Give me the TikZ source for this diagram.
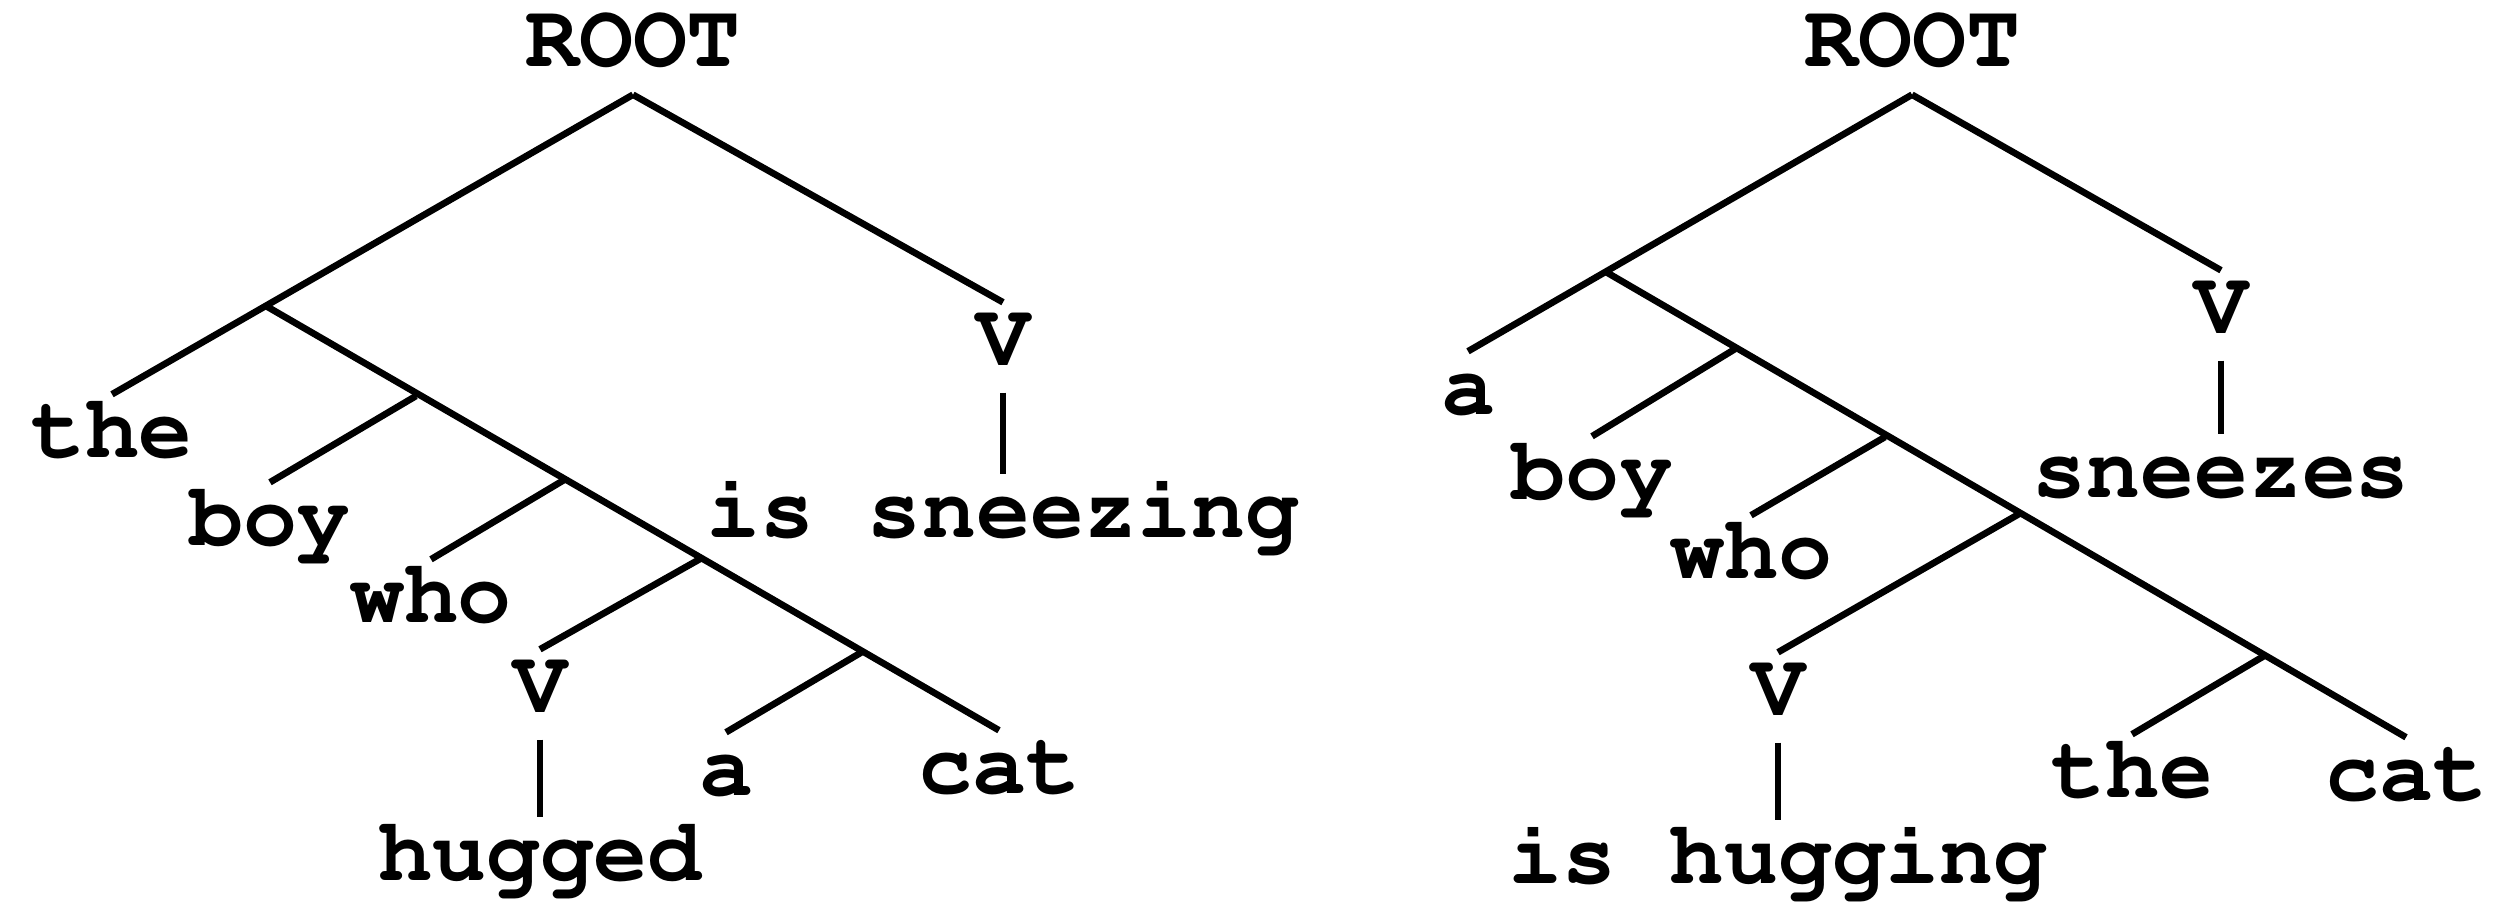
\documentclass[tikz,border=0pt]{standalone}
\usepackage[T1]{fontenc}
\usepackage{courier}
\usepackage{tikz}
\usetikzlibrary{positioning}
\tikzstyle{word} = [inner sep=0pt, text height=0.62cm, text depth=0.27cm, anchor=base, font=\ttfamily\bfseries\fontsize{25.6}{30}\selectfont]
\tikzstyle{branch} = [line width=1.9pt]

\begin{document}
\begin{tikzpicture}[node distance=1.68cm]
		\useasboundingbox (0,0) rectangle (25,-9.15);

		\node (RootL) [word] at (6.33,-0.67) {ROOT};
		\coordinate (SubjL) at (2.66,-3.06);
		\node (TheL) [word] at (1.12,-4.57) {the};
		\node (VerbL) [word] at (10.03,-3.65) {V};
		\node (SneezeL) [word, below of=VerbL, node distance=1.72cm] {is sneezing};
		\coordinate (BoyPtL) at (4.16,-3.96);
		\node (BoyL) [word] at (2.70,-5.45) {boy};
		\coordinate (WhoPtL) at (5.64,-4.80);
		\node (WhoL) [word] at (4.31,-6.22) {who};
		\coordinate (RelPtL) at (7.00,-5.59);
		\node (RelVL) [word] at (5.40,-7.12) {V};
		\node (HugL) [word, below of=RelVL] {hugged};
		\coordinate (ObjPtL) at (8.62,-6.52);
		\node (AL) [word] at (7.26,-7.95) {a};
		\node (CatL) [word] at (9.99,-7.93) {cat};

		\node (RootR) [word] at (19.12,-0.67) {ROOT};
		\coordinate (SubjR) at (16.06,-2.72);
		\node (AR) [word] at (14.68,-4.14) {a};
		\node (VerbR) [word] at (22.21,-3.33) {V};
		\node (SneezeR) [word, below of=VerbR, node distance=1.64cm] {sneezes};
		\coordinate (BoyPtR) at (17.35,-3.49);
		\node (BoyR) [word] at (15.92,-4.99) {boy};
		\coordinate (WhoPtR) at (18.85,-4.37);
		\node (WhoR) [word] at (17.51,-5.78) {who};
		\coordinate (RelPtR) at (20.19,-5.14);
		\node (RelVR) [word] at (17.78,-7.15) {V};
		\node (HugR) [word, below of=RelVR] {is hugging};
		\coordinate (ObjPtR) at (22.64,-6.56);
		\node (TheR) [word] at (21.32,-7.97) {the};
		\node (CatR) [word] at (24.06,-8.00) {cat};

		\draw [branch] (RootL.south) -- (TheL.north);
		\draw [branch] (RootL.south) -- (VerbL.north);
		\draw [branch] (VerbL.south) -- (SneezeL.north);
		\draw [branch] (SubjL) -- (CatL.north);
		\draw [branch] (BoyPtL) -- (BoyL.north);
		\draw [branch] (WhoPtL) -- (WhoL.north);
		\draw [branch] (RelPtL) -- (RelVL.north);
		\draw [branch] (RelVL.south) -- (HugL.north);
		\draw [branch] (ObjPtL) -- (AL.north);

		\draw [branch] (RootR.south) -- (AR.north);
		\draw [branch] (RootR.south) -- (VerbR.north);
		\draw [branch] (VerbR.south) -- (SneezeR.north);
		\draw [branch] (SubjR) -- (CatR.north);
		\draw [branch] (BoyPtR) -- (BoyR.north);
		\draw [branch] (WhoPtR) -- (WhoR.north);
		\draw [branch] (RelPtR) -- (RelVR.north);
		\draw [branch] (RelVR.south) -- (HugR.north);
		\draw [branch] (ObjPtR) -- (TheR.north);
	\end{tikzpicture}
\end{document}
